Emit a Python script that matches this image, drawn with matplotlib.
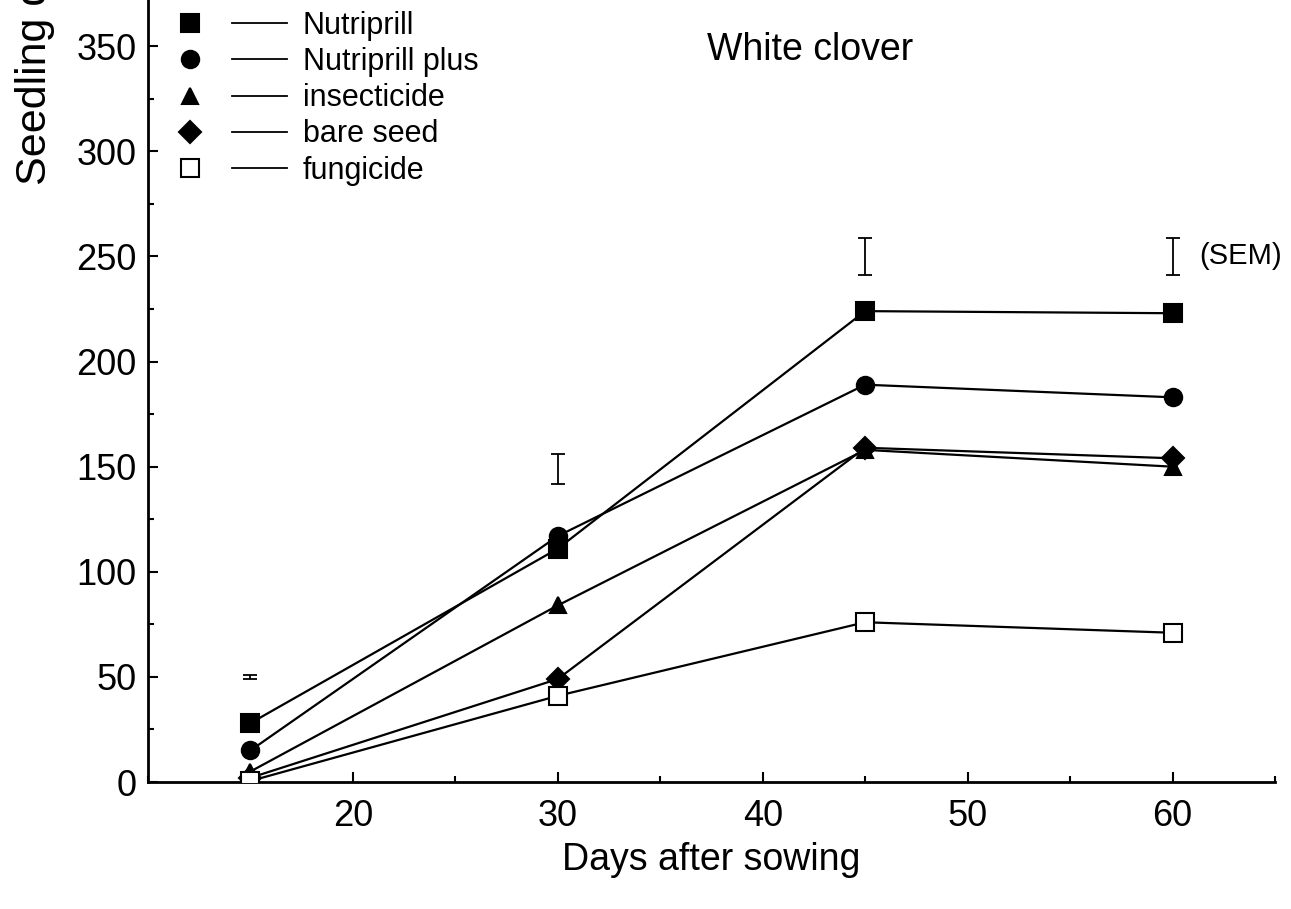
import matplotlib
matplotlib.use('Agg')
import matplotlib.pyplot as plt
from matplotlib.lines import Line2D
from matplotlib.legend_handler import HandlerTuple
from matplotlib.ticker import MultipleLocator

plt.rcParams['font.family'] = ['Liberation Sans', 'DejaVu Sans']

# data
days = [15, 30, 45, 60]
treatments = ['Nutriprill', 'Nutriprill plus', 'insecticide', 'bare seed', 'fungicide']
nutriprill = [28, 111, 224, 223]
nutriprill_plus = [15, 117, 189, 183]
insecticide = [5, 84, 158, 150]
bare_seed = [2, 49, 159, 154]
fungicide = [0.5, 41, 76, 71]

# SEM bars drawn above the points
sem_days = [15, 30, 45, 60]
sem_mid = [50, 149, 250, 250]
sem_half = [1, 7, 9, 9]

series = [nutriprill, nutriprill_plus, insecticide, bare_seed, fungicide]
markers = ['s', 'o', '^', 'D', 's']
sizes = [12.5, 12.5, 12, 11, 12.5]
faces = ['black', 'black', 'black', 'black', 'white']

fig = plt.figure(figsize=(12.91, 9.09), dpi=100)
ax = fig.add_axes([0.1146, 0.1397, 0.873, 0.8603])

handles = []
for vals, m, ms, fc, name in zip(series, markers, sizes, faces, treatments):
    ax.plot(days, vals, color='black', lw=1.6, marker=m, ms=ms,
            mfc=fc, mec='black', mew=1.5, zorder=3)
    mk = Line2D([], [], ls='none', marker=m, ms=ms, mfc=fc, mec='black', mew=1.5)
    ln = Line2D([], [], color='black', lw=1.3)
    handles.append((mk, ln))

ax.errorbar(sem_days, sem_mid, yerr=sem_half, fmt='none', ecolor='black',
            elinewidth=1.3, capsize=5, capthick=1.3)

ax.set_xlim(10, 65)
ax.set_ylim(0, 372)
ax.xaxis.set_major_locator(MultipleLocator(10))
ax.xaxis.set_minor_locator(MultipleLocator(5))
ax.yaxis.set_major_locator(MultipleLocator(50))
ax.yaxis.set_minor_locator(MultipleLocator(25))
ax.set_xticks([20, 30, 40, 50, 60])
ax.tick_params(which='both', direction='in', width=1.5, labelsize=26)
ax.tick_params(which='major', length=7)
ax.tick_params(which='minor', length=4)
ax.tick_params(axis='x', pad=12)
ax.tick_params(axis='y', pad=8)
for s in ['top', 'right']:
    ax.spines[s].set_visible(False)
for s in ['left', 'bottom']:
    ax.spines[s].set_linewidth(2)

ax.set_xlabel('Days after sowing', fontsize=27, labelpad=6)
# the y label runs off the top edge in the original scan
fig.text(0.027, 0.796, 'Seedling density (m\u207b\u00b2)', rotation=90,
         ha='center', va='bottom', fontsize=31)

ax.text(42.3, 348, 'White clover', fontsize=27, ha='center', va='center')
ax.text(61.3, 250, '(SEM)', fontsize=21, ha='left', va='center')

leg = ax.legend(handles, treatments, handler_map={tuple: HandlerTuple(ndivide=2, pad=0.47)},
                loc='upper left', bbox_to_anchor=(-0.0113, 1.021), frameon=False,
                fontsize=22, handlelength=4.07, labelspacing=0.2, handletextpad=0.52)

fig.savefig('out.png', dpi=100, facecolor='white')
